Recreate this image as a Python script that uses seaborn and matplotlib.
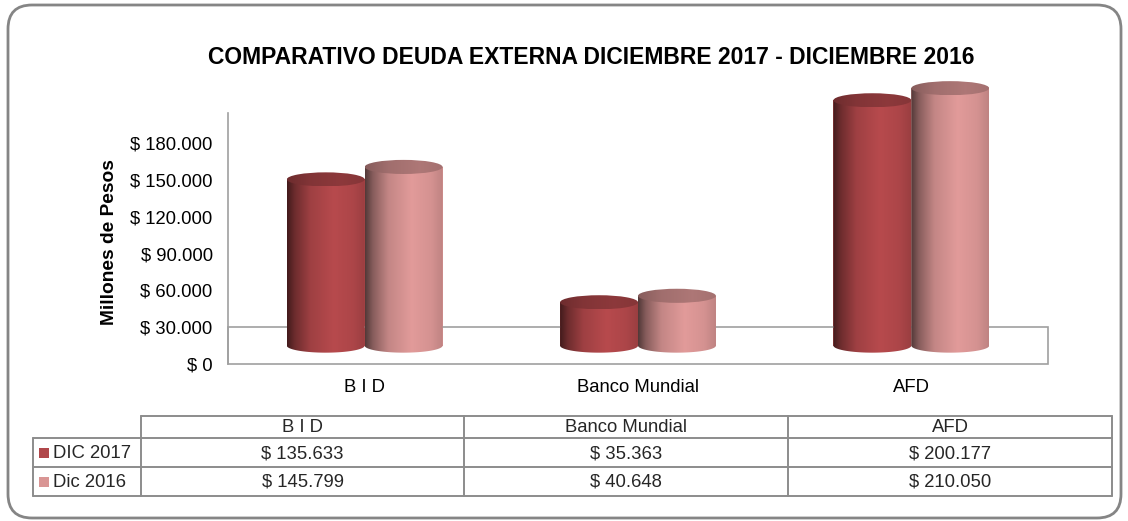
import numpy as np
import pandas as pd
import matplotlib
matplotlib.use("Agg")
import matplotlib.pyplot as plt
import seaborn as sns
from matplotlib.patches import Ellipse, Rectangle, Polygon, FancyBboxPatch
from matplotlib.colors import to_rgb

# data
categories = ["B I D", "Banco Mundial", "AFD"]
series = ["DIC 2017", "Dic 2016"]
dic_2017 = [135633, 35363, 200177]
dic_2016 = [145799, 40648, 210050]
yticks = [0, 30000, 60000, 90000, 120000, 150000, 180000]
colors = ["#B0474A", "#D99594"]


def pesos(v):
    return "$ " + f"{v:,}".replace(",", ".")


df = pd.DataFrame({
    "Entidad": categories * 2,
    "Serie": [series[0]] * 3 + [series[1]] * 3,
    "Valor": dic_2017 + dic_2016,
})

sns.set_theme(style="white")
plt.rcParams["font.family"] = ["Liberation Sans", "DejaVu Sans"]

W, H = 1128, 521
fig = plt.figure(figsize=(W / 100, H / 100), dpi=100)
fig.patch.set_facecolor("white")

# main plot area (pixel layout of the original)
ax = fig.add_axes([228 / W, 1 - 364 / H, 820 / W, (364 - 76) / H])
sns.barplot(data=df, x="Entidad", y="Valor", hue="Serie", palette=colors,
            width=0.57, saturation=1, legend=False, ax=ax)

floor = 15000      # bars sit on the 3d floor
ell_h = 11500      # height of the cylinder ellipses, in data units
gray = "#8c8c8c"
fs = 13.3

# cylinder shading profiles (multipliers on the series colour)
body_t = [0.0, 0.1, 0.3, 0.6, 0.85, 1.0]
body_f = [0.38, 0.62, 0.9, 1.04, 0.98, 0.88]
cap_t = [0.0, 0.3, 0.7, 1.0]
cap_f = [0.62, 0.74, 0.8, 0.76]


def gradient(base, ts, fs, n=200):
    r, g, b = to_rgb(base)
    t = np.linspace(0, 1, n)
    f = np.interp(t, ts, fs)
    img = np.stack([np.clip(r * f, 0, 1), np.clip(g * f, 0, 1), np.clip(b * f, 0, 1)], axis=-1)
    return np.repeat(img[None, :, :], 2, axis=0)


bars = list(ax.patches)
for i, p in enumerate(bars):
    base = colors[i // 3]
    x0, w, h = p.get_x(), p.get_width(), p.get_height()
    cx = x0 + w / 2
    p.set_y(floor)
    p.set_edgecolor("none")
    top = floor + h

    # body + rounded bottom as one clip outline
    th = np.linspace(np.pi, 2 * np.pi, 60)
    bottom = np.column_stack([cx + w / 2 * np.cos(th), floor + ell_h / 2 * np.sin(th)])
    outline = np.vstack([bottom, [[x0 + w, top], [x0, top]]])
    clip = Polygon(outline, closed=True, transform=ax.transData, facecolor="none", edgecolor="none")
    ax.add_patch(clip)
    im = ax.imshow(gradient(base, body_t, body_f), extent=[x0, x0 + w, floor - ell_h / 2, top],
                   aspect="auto", interpolation="bilinear", zorder=3)
    im.set_clip_path(clip)

    cap = Ellipse((cx, top), w, ell_h, facecolor="none", edgecolor="none", transform=ax.transData)
    ax.add_patch(cap)
    imc = ax.imshow(gradient(base, cap_t, cap_f), extent=[x0, x0 + w, top - ell_h / 2, top + ell_h / 2],
                    aspect="auto", interpolation="bilinear", zorder=4)
    imc.set_clip_path(cap)

# floor box
ax.add_patch(Rectangle((-0.5, 0), 3, 30000, facecolor="none", edgecolor="#a0a0a0",
                       linewidth=1.2, zorder=1, clip_on=False))

ax.set_xlim(-0.5, 2.5)
ax.set_ylim(0, 235000)
for s in ["top", "right", "bottom"]:
    ax.spines[s].set_visible(False)
ax.spines["left"].set_bounds(0, 205000)
ax.spines["left"].set_color("#a0a0a0")
ax.spines["left"].set_linewidth(1.2)
ax.set_yticks(yticks)
ax.set_yticklabels([pesos(v) for v in yticks])
ax.tick_params(axis="y", length=0, pad=11, labelsize=fs, labelcolor="black")
ax.tick_params(axis="x", length=0, pad=11, labelsize=fs, labelcolor="black")
ax.set_xlabel("")
ax.set_ylabel("")
ax.set_facecolor("none")

# overlay in pixel units for frame, titles and the data table
ov = fig.add_axes([0, 0, 1, 1], facecolor="none")
ov.set_xlim(0, W)
ov.set_ylim(H, 0)
ov.axis("off")

ov.add_patch(FancyBboxPatch((8, 5), 1113, 513, boxstyle="round,pad=0,rounding_size=24",
                            facecolor="none", edgecolor="#858585", linewidth=2))

ov.text(591, 58, "COMPARATIVO DEUDA EXTERNA DICIEMBRE 2017 - DICIEMBRE 2016",
        ha="center", va="center", fontsize=16.5, fontweight="bold", color="black")
ov.text(110, 242, "Millones de Pesos", ha="center", va="center", rotation=90,
        fontsize=13.8, fontweight="bold", color="black")

# data table
col_x = [141, 464, 788, 1112]
row_y = [416, 438, 467, 496]
lab_x0 = 33
lw = 1.4
# header box
ov.plot([col_x[0], col_x[-1]], [row_y[0], row_y[0]], color=gray, lw=lw)
for x in col_x:
    ov.plot([x, x], [row_y[0], row_y[-1]], color=gray, lw=lw)
for y in row_y[1:]:
    ov.plot([lab_x0, col_x[-1]], [y, y], color=gray, lw=lw)
ov.plot([lab_x0, lab_x0], [row_y[1], row_y[-1]], color=gray, lw=lw)

for j, cat in enumerate(categories):
    cxm = (col_x[j] + col_x[j + 1]) / 2
    ov.text(cxm, (row_y[0] + row_y[1]) / 2 + 1, cat, ha="center", va="center", fontsize=fs)
    for k, vals in enumerate([dic_2017, dic_2016]):
        ov.text(cxm, (row_y[k + 1] + row_y[k + 2]) / 2 + 1, pesos(vals[j]),
                ha="center", va="center", fontsize=fs)

for k, name in enumerate(series):
    yc = (row_y[k + 1] + row_y[k + 2]) / 2
    ov.add_patch(Rectangle((39, yc - 5), 10, 10, facecolor=colors[k], edgecolor="none"))
    ov.text(53, yc + 1, name, ha="left", va="center", fontsize=fs)

fig.savefig("out.png", dpi=100, facecolor="white")
